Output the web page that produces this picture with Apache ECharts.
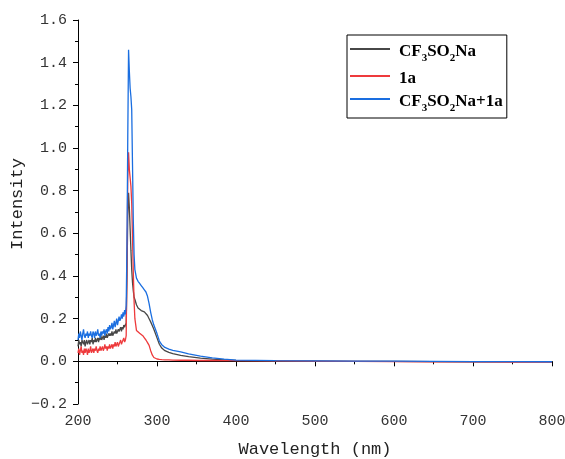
<!DOCTYPE html>
<html>
<head>
<meta charset="utf-8">
<script src="https://cdn.jsdelivr.net/npm/echarts@6/dist/echarts.min.js"></script>
<style>
  html, body { margin: 0; padding: 0; background: #fff; }
  #main { width: 565px; height: 459px; }
</style>
</head>
<body>
<div id="main"></div>
<script>
// wavelength (nm), shared by the three spectra
var wavelength = [
  200,201,202,203,204,205,206,207,208,209,210,211,212,213,214,215,216,217,218,219,
  220,221,222,223,224,225,226,227,228,229,230,231,232,233,234,235,236,237,238,239,
  240,241,242,243,244,245,246,247,248,249,250,251,252,253,254,255,256,257,258,259,260,
  261,262,263,264,265,266,267,268,269,270,271,272,274,276,278,280,282,284,286,288,
  290,292,294,296,298,300,303,306,310,315,320,330,340,355,370,385,400,450,500,550,
  600,650,700,750,800
];

var cf3so2na = [
  0.07,0.10,0.08,0.09,0.07,0.10,0.09,0.08,0.10,0.07,0.09,0.10,0.08,0.09,0.10,0.08,0.10,0.09,0.11,0.08,
  0.10,0.09,0.11,0.09,0.10,0.11,0.09,0.11,0.10,0.12,0.10,0.11,0.12,0.10,0.12,0.11,0.13,0.11,0.12,0.13,
  0.12,0.13,0.12,0.14,0.12,0.13,0.14,0.13,0.15,0.13,0.14,0.15,0.14,0.15,0.16,0.14,0.16,0.15,0.17,0.16,0.17,
  0.18,0.40,0.68,0.79,0.72,0.62,0.52,0.43,0.37,0.33,0.30,0.29,0.265,0.25,0.243,0.238,0.235,0.232,0.228,0.215,
  0.20,0.185,0.168,0.15,0.13,0.11,0.08,0.062,0.05,0.042,0.036,0.028,0.022,0.015,0.010,0.007,0.004,0.002,0.001,0.0,
  0.0,-0.001,-0.002,-0.002,-0.003
];

var comp1a = [
  0.04,0.06,0.03,0.05,0.07,0.04,0.05,0.03,0.06,0.04,0.06,0.05,0.03,0.06,0.04,0.05,0.07,0.04,0.05,0.06,
  0.04,0.06,0.05,0.07,0.05,0.04,0.06,0.05,0.07,0.05,0.06,0.07,0.05,0.06,0.08,0.06,0.07,0.05,0.07,0.06,
  0.08,0.06,0.07,0.08,0.06,0.08,0.07,0.09,0.07,0.08,0.09,0.07,0.08,0.09,0.10,0.08,0.09,0.10,0.11,0.09,0.10,
  0.12,0.45,0.85,0.98,0.90,0.86,0.82,0.74,0.58,0.42,0.28,0.20,0.145,0.138,0.132,0.127,0.12,0.11,0.10,0.088,
  0.075,0.05,0.03,0.018,0.013,0.011,0.009,0.008,0.007,0.007,0.006,0.005,0.005,0.004,0.004,0.003,0.003,0.002,0.001,0.0,
  -0.001,-0.002,-0.003,-0.004,-0.004
];

var mix = [
  0.10,0.13,0.11,0.14,0.12,0.10,0.13,0.15,0.12,0.11,0.13,0.12,0.14,0.11,0.13,0.12,0.14,0.12,0.11,0.14,
  0.13,0.11,0.14,0.12,0.13,0.15,0.12,0.13,0.11,0.14,0.12,0.14,0.13,0.15,0.12,0.14,0.15,0.13,0.16,0.14,
  0.17,0.15,0.16,0.18,0.15,0.17,0.19,0.16,0.18,0.20,0.17,0.19,0.21,0.19,0.20,0.22,0.20,0.23,0.21,0.24,0.22,
  0.26,0.55,1.05,1.46,1.36,1.28,1.24,1.18,0.92,0.66,0.50,0.43,0.39,0.375,0.365,0.355,0.345,0.335,0.325,0.305,
  0.27,0.23,0.195,0.17,0.15,0.13,0.095,0.078,0.065,0.057,0.051,0.044,0.035,0.024,0.016,0.010,0.006,0.003,0.002,0.001,
  0.001,0.0,-0.001,-0.001,-0.002
];

var seriesNames = ['CF3SO2Na', '1a', 'CF3SO2Na+1a'];
var seriesColors = ['#474747', '#ee3a3c', '#1a6ee0'];

function pairs(ys) {
  var out = [];
  for (var i = 0; i < wavelength.length; i++) {
    out.push([wavelength[i], ys[i]]);
  }
  return out;
}

var myChart = echarts.init(document.getElementById('main'));

var tickFont = 'Liberation Mono';
var legendFont = { fontFamily: 'Liberation Serif', fontWeight: 'bold', fontSize: 17, color: '#000', lineHeight: 22, verticalAlign: 'bottom' };

var option = {
  animation: false,
  backgroundColor: '#fff',
  grid: { left: 78, right: 13, top: 20, bottom: 55, containLabel: false, outerBoundsMode: 'none' },
  legend: {
    orient: 'vertical',
    left: 347,
    top: 35,
    padding: [8, 4, 4, 3],
    itemGap: 6,
    itemWidth: 40,
    itemHeight: 2,
    icon: 'rect',
    borderColor: '#000',
    borderWidth: 1,
    data: seriesNames,
    formatter: function (name) {
      if (name == 'CF3SO2Na') return '{f|CF}{s|3}{n|SO}{s|2}{n|Na}';
      if (name == 'CF3SO2Na+1a') return '{f|CF}{s|3}{n|SO}{s|2}{n|Na+1a}';
      return '{f|' + name + '}';
    },
    textStyle: {
      rich: {
        f: Object.assign({}, legendFont, { padding: [0, 0, 0, 4] }),
        n: legendFont,
        s: { fontFamily: 'Liberation Serif', fontWeight: 'bold', fontSize: 11, color: '#000', lineHeight: 22, verticalAlign: 'bottom', padding: [0, 0, -4, 0] }
      }
    }
  },
  xAxis: {
    type: 'value',
    min: 200,
    max: 800,
    interval: 100,
    name: 'Wavelength (nm)',
    nameLocation: 'middle',
    nameGap: 37,
    nameMoveOverlap: false,
    nameTextStyle: { fontFamily: tickFont, fontSize: 17, color: '#222' },
    axisLine: { lineStyle: { color: '#000', width: 1 } },
    axisTick: { show: true, inside: false, length: 5, lineStyle: { color: '#000' } },
    minorTick: { show: true, splitNumber: 2, length: 3, lineStyle: { color: '#000' } },
    splitLine: { show: false },
    axisLabel: { fontFamily: tickFont, fontSize: 15, color: '#333', margin: 10 }
  },
  yAxis: {
    type: 'value',
    min: -0.2,
    max: 1.6,
    interval: 0.2,
    name: 'Intensity',
    nameLocation: 'middle',
    nameGap: 52,
    nameRotate: 90,
    nameMoveOverlap: false,
    nameTextStyle: { fontFamily: tickFont, fontSize: 17, color: '#222', padding: [0, 0, 0, 16] },
    axisLine: { show: true, lineStyle: { color: '#000', width: 1 } },
    axisTick: { show: true, inside: false, length: 5, lineStyle: { color: '#000' } },
    minorTick: { show: true, splitNumber: 2, length: 3, lineStyle: { color: '#000' } },
    splitLine: { show: false },
    axisLabel: {
      fontFamily: tickFont, fontSize: 15, color: '#333', margin: 11,
      formatter: function (v) {
        if (Math.abs(v) < 1e-9) return '0.0';
        return v.toFixed(1).replace('-', '\u2212');
      }
    }
  },
  series: [
    { name: seriesNames[0], type: 'line', symbol: 'none', data: pairs(cf3so2na), lineStyle: { color: seriesColors[0], width: 1.3 }, itemStyle: { color: seriesColors[0] }, z: 2 },
    { name: seriesNames[1], type: 'line', symbol: 'none', data: pairs(comp1a), lineStyle: { color: seriesColors[1], width: 1.3 }, itemStyle: { color: seriesColors[1] }, z: 3 },
    { name: seriesNames[2], type: 'line', symbol: 'none', data: pairs(mix), lineStyle: { color: seriesColors[2], width: 1.3 }, itemStyle: { color: seriesColors[2] }, z: 4 }
  ]
};

myChart.setOption(option);
</script>
</body>
</html>
